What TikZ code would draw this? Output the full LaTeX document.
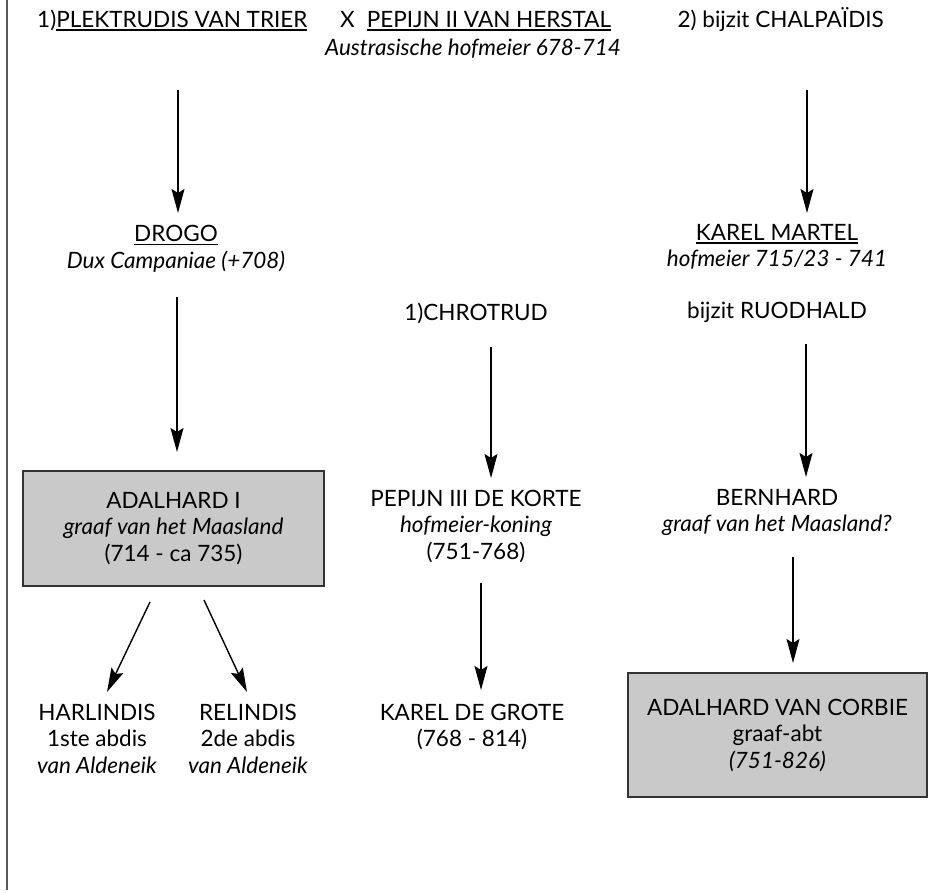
\documentclass[tikz,border=0pt]{standalone}
\usepackage{fontspec}
\setmainfont{Lato}
\usetikzlibrary{arrows.meta}
\newcommand\myul[1]{\setbox0\hbox{#1}\rlap{\rule[-3.5pt]{\wd0}{1.4pt}}\box0}
\begin{document}
\begin{tikzpicture}[x=1pt,y=-1pt,
  lbl/.style={inner sep=0pt, anchor=base, align=center, font=\fontsize{22.5}{26.5}\selectfont},
  famgbox/.style={draw=black!80, line width=1.4pt, fill=black!21, inner sep=0pt, align=center,
     font=\fontsize{22.5}{26.5}\selectfont},
  arr/.style={line width=1.4pt, -{Stealth[length=24pt,width=13pt,inset=4pt]}}]
\useasboundingbox (0,0) rectangle (929,892);
\fill[white] (0,0) rectangle (929,892);
\draw[line width=2pt, black!65] (7,0) -- (7,890);

% top row (base = baseline of the last line)
\node[lbl, anchor=base west] (plek) at (37,27) {1)\myul{PLEKTRUDIS VAN TRIER}};
\node[lbl, anchor=base west] (pepijn) at (340,27) {X\hspace{12pt}\myul{PEPIJN II VAN HERSTAL}};
\node[lbl, anchor=base east] (chal) at (884,27) {2) bijzit CHALPAÏDIS};
\node[lbl] (aust) at (473,55) {\itshape Austrasische hofmeier 678-714};

% second row
\node[lbl] (drogo) at (176,268) {\myul{DROGO}\\\textit{Dux Campaniae (+708)}};
\node[lbl] (karel) at (777,266.5) {\myul{KAREL MARTEL}\\\textit{hofmeier 715/23 - 741}};

% third row
\node[lbl] (chro) at (476,320) {1)CHROTRUD};
\node[lbl] (ruod) at (777,318) {bijzit RUODHALD};

% fourth row
\node[famgbox, minimum width=301pt, minimum height=115pt] (adal) at (173.5,528.5)
  {ADALHARD I\\\textit{graaf van het Maasland}\\(714 - ca 735)};
\node[lbl] (pep3) at (476,559) {PEPIJN III DE KORTE\\\textit{hofmeier-koning}\\(751-768)};
\node[lbl] (bern) at (777,531.5) {BERNHARD\\\textit{graaf van het Maasland?}};

% fifth row
\node[lbl] (harl) at (97,773) {HARLINDIS\\1ste abdis\\\textit{van Aldeneik}};
\node[lbl] (reli) at (248,773) {RELINDIS\\2de abdis\\\textit{van Aldeneik}};
\node[lbl] (kdg) at (472,746.5) {KAREL DE GROTE\\(768 - 814)};
\node[famgbox, minimum width=299pt, minimum height=124pt] (corb) at (777.5,735)
  {\rule{0pt}{6pt}ADALHARD VAN CORBIE\\graaf-abt\\\textit{(751-826)}};

% arrow end points
\coordinate (s1) at (178,90);  \coordinate (e1) at (178,213);
\coordinate (s2) at (807,90);  \coordinate (e2) at (807,213);
\coordinate (s3) at (177,297); \coordinate (e3) at (177,452);
\coordinate (s4) at (491,347); \coordinate (e4) at (491,478);
\coordinate (s5) at (806,344); \coordinate (e5) at (806,477);
\coordinate (s6) at (150,602); \coordinate (e6) at (107,692);
\coordinate (s7) at (204,600); \coordinate (e7) at (247,692);
\coordinate (s8) at (481,583); \coordinate (e8) at (481,690);
\coordinate (s9) at (793,557); \coordinate (e9) at (793,663);

\draw[arr] (s1) -- (e1);
\draw[arr] (s2) -- (e2);
\draw[arr] (s3) -- (e3);
\draw[arr] (s4) -- (e4);
\draw[arr] (s5) -- (e5);
\draw[arr] (s6) -- (e6);
\draw[arr] (s7) -- (e7);
\draw[arr] (s8) -- (e8);
\draw[arr] (s9) -- (e9);
\end{tikzpicture}
\end{document}
